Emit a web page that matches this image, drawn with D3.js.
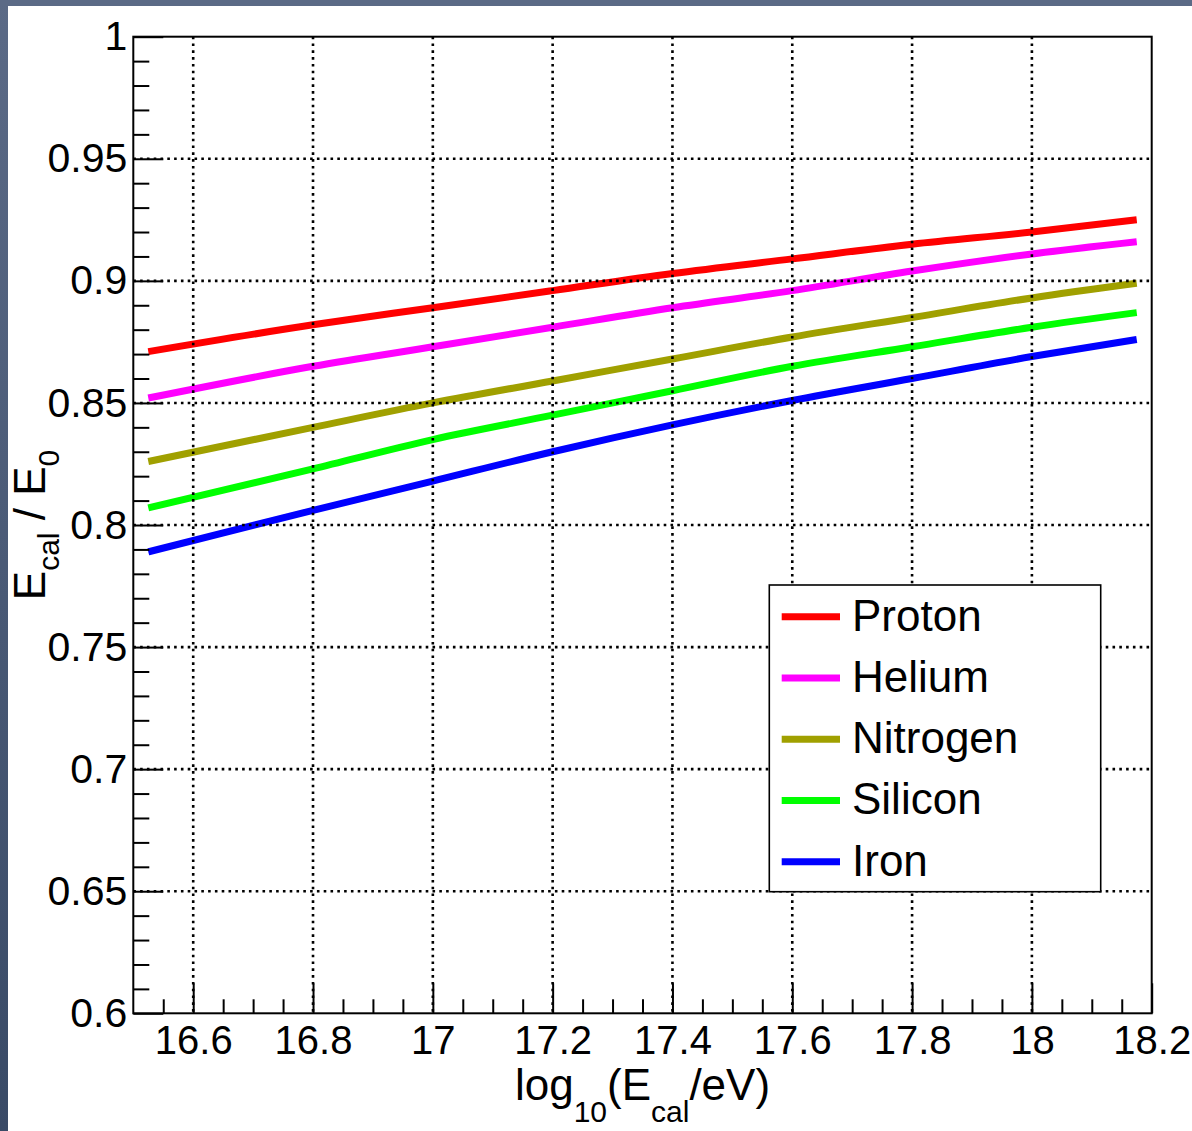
<!DOCTYPE html>
<html>
<head>
<meta charset="utf-8">
<script src="https://cdn.jsdelivr.net/npm/d3@7"></script>
<style>
  body { margin: 0; background: #fff; }
  text { font-family: "Liberation Sans", Arial, Helvetica, sans-serif; fill: #000; }
</style>
</head>
<body>
<div id="chart"></div>
<script>
"use strict"

// energy points (log10 E/eV) and the ratio for each primary
const energies = [16.525, 16.8, 17.0, 17.2, 17.4, 17.6, 17.8, 18.0, 18.175];
const proton   = [0.871, 0.882, 0.889, 0.896, 0.903, 0.909, 0.915, 0.920, 0.925];
const helium   = [0.852, 0.865, 0.873, 0.881, 0.889, 0.896, 0.904, 0.911, 0.916];
const nitrogen = [0.826, 0.840, 0.850, 0.859, 0.868, 0.877, 0.885, 0.893, 0.899];
const silicon  = [0.807, 0.823, 0.835, 0.845, 0.855, 0.865, 0.873, 0.881, 0.887];
const iron     = [0.789, 0.806, 0.818, 0.830, 0.841, 0.851, 0.860, 0.869, 0.876];

const seriesNames = ["Proton", "Helium", "Nitrogen", "Silicon", "Iron"];
const seriesColors = ["#ff0000", "#ff00ff", "#a0a000", "#00ff00", "#0000ff"];
const seriesValues = [proton, helium, nitrogen, silicon, iron];

const xTicks = [16.6, 16.8, 17.0, 17.2, 17.4, 17.6, 17.8, 18.0, 18.2];
const yTicks = [0.6, 0.65, 0.7, 0.75, 0.8, 0.85, 0.9, 0.95, 1.0];

var width = 1192,
    height = 1131,
    plotLeft = 133.3, plotRight = 1151.7, plotTop = 36.7, plotBottom = 1013.3;

var svg = d3.select("#chart")
    .append("svg")
    .attr("width", width)
    .attr("height", height);

// slide frame (left / top strips)
var defs = svg.append("defs");
var grad = defs.append("linearGradient").attr("id", "side").attr("x1", 0).attr("y1", 0).attr("x2", 0).attr("y2", 1);
grad.append("stop").attr("offset", "0%").attr("stop-color", "#5b6a86");
grad.append("stop").attr("offset", "100%").attr("stop-color", "#394a66");
svg.append("rect").attr("x", 0).attr("y", 0).attr("width", 8).attr("height", height).attr("fill", "url(#side)");
svg.append("rect").attr("x", 0).attr("y", 0).attr("width", width).attr("height", 6).attr("fill", "#5b6a86");

// scales
var x = d3.scaleLinear().domain([16.5, 18.2]).range([plotLeft, plotRight]);
var y = d3.scaleLinear().domain([0.6, 1.0]).range([plotBottom, plotTop]);

// curves
var line = d3.line()
    .x(function (d, i) { return x(energies[i]); })
    .y(function (d) { return y(d); })
    .curve(d3.curveMonotoneX);

svg.append("g")
    .selectAll("path")
    .data(seriesValues)
    .enter()
    .append("path")
    .attr("d", line)
    .attr("fill", "none")
    .attr("stroke", function (d, i) { return seriesColors[i]; })
    .attr("stroke-width", 7);

// dotted grid
var grid = svg.append("g")
    .attr("stroke", "#000")
    .attr("stroke-width", 2.6)
    .attr("stroke-dasharray", "2.6,4.2");
grid.selectAll("line.gx")
    .data(xTicks.filter(function (t) { return t < 18.1; }))
    .enter().append("line")
    .attr("x1", function (d) { return x(d); })
    .attr("x2", function (d) { return x(d); })
    .attr("y1", plotTop)
    .attr("y2", plotBottom);
grid.selectAll("line.gy")
    .data(yTicks.filter(function (t) { return t > 0.61 && t < 0.99; }))
    .enter().append("line")
    .attr("y1", function (d) { return y(d); })
    .attr("y2", function (d) { return y(d); })
    .attr("x1", plotLeft)
    .attr("x2", plotRight);

// minor ticks
var xMinor = d3.range(16.55, 18.2, 0.05).filter(function (v) { return Math.abs(v * 5 - Math.round(v * 5)) > 0.01; });
var yMinor = d3.range(0.61, 1.0, 0.01).filter(function (v) { return Math.abs(v * 20 - Math.round(v * 20)) > 0.01; });

svg.append("g")
    .attr("transform", "translate(0," + plotBottom + ")")
    .call(d3.axisBottom(x).tickValues(xMinor).tickSize(-14).tickFormat(""))
    .call(function (g) { g.select(".domain").remove(); })
    .selectAll("line").attr("stroke-width", 2);

svg.append("g")
    .attr("transform", "translate(" + plotLeft + ",0)")
    .call(d3.axisLeft(y).tickValues(yMinor).tickSize(-16).tickFormat(""))
    .call(function (g) { g.select(".domain").remove(); })
    .selectAll("line").attr("stroke-width", 2);

// major ticks + labels
var xAxis = svg.append("g")
    .attr("transform", "translate(0," + plotBottom + ")")
    .call(d3.axisBottom(x).tickValues(xTicks).tickSize(-30).tickPadding(12)
        .tickFormat(function (d) { return String(+d.toFixed(1)); }));
xAxis.select(".domain").remove();
xAxis.selectAll("line").attr("stroke-width", 2);
xAxis.selectAll("text").style("font-size", "40px").style("font-family", "'Liberation Sans', Arial, sans-serif");

var yAxis = svg.append("g")
    .attr("transform", "translate(" + plotLeft + ",0)")
    .call(d3.axisLeft(y).tickValues(yTicks).tickSize(-30).tickPadding(6)
        .tickFormat(function (d) { return String(+d.toFixed(2)); }));
yAxis.select(".domain").remove();
yAxis.selectAll("line").attr("stroke-width", 2);
yAxis.selectAll("text").style("font-size", "41px").style("font-family", "'Liberation Sans', Arial, sans-serif");

// frame
svg.append("rect")
    .attr("x", plotLeft).attr("y", plotTop)
    .attr("width", plotRight - plotLeft).attr("height", plotBottom - plotTop)
    .attr("fill", "none").attr("stroke", "#000").attr("stroke-width", 2);

// legend
var legend = svg.append("g");
legend.append("rect")
    .attr("x", 769.3).attr("y", 585)
    .attr("width", 331.4).attr("height", 306.7)
    .attr("fill", "#fff").attr("stroke", "#000").attr("stroke-width", 1.6);
var items = legend.selectAll("g.item")
    .data(seriesNames)
    .enter().append("g")
    .attr("transform", function (d, i) { return "translate(0," + (616.7 + i * 61.25) + ")"; });
items.append("line")
    .attr("x1", 781.7).attr("x2", 840)
    .attr("stroke", function (d, i) { return seriesColors[i]; })
    .attr("stroke-width", 7);
items.append("text")
    .attr("x", 852)
    .attr("y", 14)
    .style("font-size", "44px")
    .text(function (d) { return d; });

// axis titles
var xt = svg.append("text")
    .attr("x", (plotLeft + plotRight) / 2)
    .attr("y", 1100)
    .attr("text-anchor", "middle")
    .style("font-size", "44px");
xt.append("tspan").text("log");
xt.append("tspan").attr("dy", 22).style("font-size", "30px").text("10");
xt.append("tspan").attr("dy", -22).text("(E");
xt.append("tspan").attr("dy", 22).style("font-size", "30px").text("cal");
xt.append("tspan").attr("dy", -22).text("/eV)");

var yt = svg.append("text")
    .attr("transform", "translate(45," + ((plotTop + plotBottom) / 2) + ") rotate(-90)")
    .attr("text-anchor", "middle")
    .style("font-size", "44px");
yt.append("tspan").text("E");
yt.append("tspan").attr("dy", 14).style("font-size", "30px").text("cal");
yt.append("tspan").attr("dy", -14).text(" / E");
yt.append("tspan").attr("dy", 14).style("font-size", "30px").text("0");
</script>
</body>
</html>
